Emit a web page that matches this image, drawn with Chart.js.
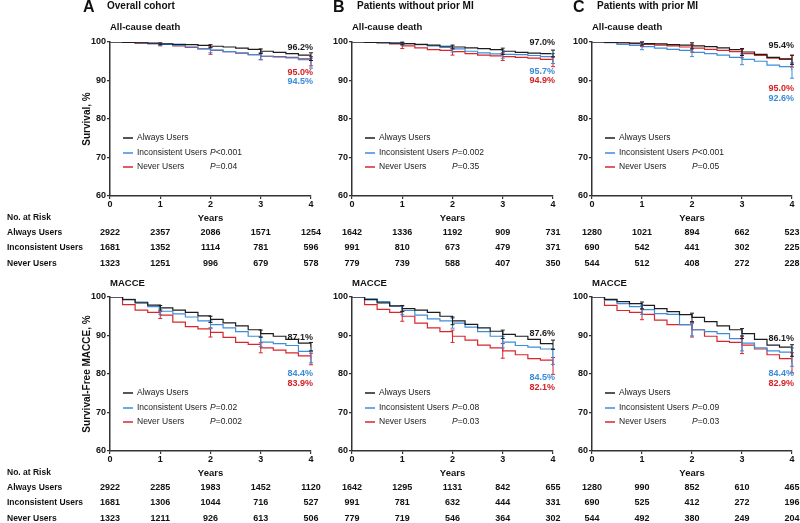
<!DOCTYPE html>
<html>
<head>
<meta charset="utf-8">
<title>Kaplan-Meier curves</title>
<script src="https://cdn.jsdelivr.net/npm/chart.js@4.4.1/dist/chart.umd.min.js"></script>
<style>
  html, body { margin: 0; padding: 0; background: #fff; }
  #fig { position: relative; width: 800px; height: 523px; overflow: hidden; }
  #fig canvas { position: absolute; }
</style>
</head>
<body>
<div id="fig">
  <canvas id="deathAll" width="330" height="271" style="left:0;top:0"></canvas>
  <canvas id="deathNoMi" width="240" height="271" style="left:330px;top:0"></canvas>
  <canvas id="deathMi" width="230" height="271" style="left:570px;top:0"></canvas>
  <canvas id="macceAll" width="330" height="252" style="left:0;top:271px"></canvas>
  <canvas id="macceNoMi" width="240" height="252" style="left:330px;top:271px"></canvas>
  <canvas id="macceMi" width="230" height="252" style="left:570px;top:271px"></canvas>
</div>
<script>
// dados
const years = [0, 0.25, 0.5, 0.75, 1, 1.25, 1.5, 1.75, 2, 2.25, 2.5, 2.75, 3, 3.25, 3.5, 3.75, 4];
const tickYears = [0, 1, 2, 3, 4];
const groups = ['Always Users', 'Inconsistent Users', 'Never Users'];

// All-cause death - overall cohort
const deathAllAlways       = [100, 99.9, 99.8, 99.7, 99.5, 99.4, 99.3, 99.1, 98.9, 98.7, 98.4, 98.1, 97.6, 97.3, 97.0, 96.6, 96.2];
const deathAllInconsistent = [100, 99.9, 99.8, 99.6, 99.4, 99.1, 98.7, 98.3, 97.9, 97.5, 97.1, 96.7, 96.3, 96.1, 95.9, 95.4, 94.5];
const deathAllNever        = [100, 99.9, 99.7, 99.6, 99.4, 99.0, 98.6, 98.2, 97.8, 97.5, 97.1, 96.7, 96.3, 96.2, 96.0, 95.6, 95.0];
// All-cause death - without prior MI
const deathNoMiAlways       = [100, 99.9, 99.8, 99.7, 99.6, 99.4, 99.2, 98.9, 98.7, 98.5, 98.3, 98.0, 97.6, 97.3, 97.1, 97.0, 97.0];
const deathNoMiInconsistent = [100, 99.9, 99.8, 99.7, 99.6, 99.3, 99.0, 98.6, 98.2, 97.6, 97.2, 96.9, 96.8, 96.7, 96.5, 96.2, 95.7];
const deathNoMiNever        = [100, 99.9, 99.8, 99.5, 99.0, 98.5, 98.0, 97.8, 97.5, 97.0, 96.6, 96.4, 96.2, 96.0, 95.8, 95.5, 94.9];
// All-cause death - with prior MI
const deathMiAlways       = [100, 99.9, 99.8, 99.7, 99.6, 99.5, 99.3, 99.2, 99.0, 98.8, 98.5, 98.0, 97.4, 96.8, 96.0, 95.6, 95.4];
const deathMiInconsistent = [100, 99.8, 99.4, 99.1, 98.8, 98.4, 98.1, 97.8, 97.3, 97.0, 96.6, 96.0, 95.5, 95.0, 94.0, 93.6, 92.6];
const deathMiNever        = [100, 99.9, 99.8, 99.6, 99.4, 99.2, 99.0, 98.7, 98.4, 98.1, 97.8, 97.5, 97.0, 96.5, 95.8, 95.5, 95.0];

// MACCE - overall cohort
const macceAllAlways       = [100, 99.3, 98.5, 97.9, 97.2, 96.6, 96.0, 95.1, 94.2, 93.3, 92.5, 91.5, 90.5, 89.8, 89.0, 88.0, 87.1];
const macceAllInconsistent = [100, 99.4, 98.7, 97.5, 96.3, 95.6, 94.8, 93.8, 92.8, 92.0, 91.0, 89.8, 88.3, 87.9, 87.4, 85.9, 84.4];
const macceAllNever        = [100, 98.0, 96.6, 96.0, 95.3, 93.5, 92.3, 91.7, 90.8, 89.5, 88.2, 87.7, 86.8, 86.2, 85.5, 84.7, 83.9];
// MACCE - without prior MI
const macceNoMiAlways       = [100, 99.3, 98.5, 97.7, 97.0, 96.6, 96.0, 95.0, 93.8, 92.9, 92.0, 91.1, 90.3, 89.8, 89.0, 87.9, 87.6];
const macceNoMiInconsistent = [100, 99.5, 98.8, 97.6, 96.5, 95.3, 94.3, 93.8, 93.2, 92.2, 91.0, 89.8, 88.3, 87.4, 87.0, 86.5, 84.5];
const macceNoMiNever        = [100, 98.0, 96.8, 96.0, 95.0, 93.2, 92.0, 91.0, 89.8, 88.8, 87.5, 86.8, 86.0, 85.0, 84.0, 83.6, 82.1];
// MACCE - with prior MI
const macceMiAlways       = [100, 99.4, 98.8, 98.3, 97.8, 97.0, 96.2, 95.4, 94.7, 93.6, 92.5, 91.5, 90.5, 89.0, 87.5, 87.0, 86.1];
const macceMiInconsistent = [100, 99.2, 98.3, 97.5, 96.7, 95.7, 95.5, 92.8, 91.5, 91.0, 90.5, 89.2, 88.0, 86.8, 86.0, 85.7, 84.4];
const macceMiNever        = [100, 97.8, 96.5, 96.0, 95.5, 94.0, 92.8, 92.8, 91.5, 89.8, 88.5, 88.2, 87.5, 86.5, 85.0, 84.0, 82.9];

// IC 95% (meia largura) nos anos 1..4 - Always / Inconsistent / Never
const ciDeathAll  = [[0.2, 0.4, 0.6, 1.0], [0.3, 0.7, 0.9, 1.3], [0.4, 1.0, 0.9, 1.2]];
const ciDeathNoMi = [[0.3, 0.5, 0.8, 0.9], [0.4, 0.8, 1.0, 1.3], [0.7, 0.9, 1.0, 1.3]];
const ciDeathMi   = [[0.4, 0.8, 0.9, 1.2], [0.8, 1.1, 1.4, 2.0], [0.6, 1.0, 1.1, 1.5]];
const ciMacceAll  = [[0.6, 0.8, 0.9, 1.1], [0.8, 1.0, 1.2, 1.5], [0.9, 1.2, 1.3, 1.5]];
const ciMacceNoMi = [[0.8, 1.0, 1.1, 1.2], [1.1, 1.3, 1.5, 2.0], [1.3, 1.6, 1.9, 2.2]];
const ciMacceMi   = [[0.9, 1.1, 1.3, 1.5], [1.2, 1.6, 2.0, 2.4], [1.4, 1.9, 2.2, 2.6]];

// No. at risk
const riskDeathAll  = [[2922, 2357, 2086, 1571, 1254], [1681, 1352, 1114, 781, 596], [1323, 1251, 996, 679, 578]];
const riskDeathNoMi = [[1642, 1336, 1192, 909, 731], [991, 810, 673, 479, 371], [779, 739, 588, 407, 350]];
const riskDeathMi   = [[1280, 1021, 894, 662, 523], [690, 542, 441, 302, 225], [544, 512, 408, 272, 228]];
const riskMacceAll  = [[2922, 2285, 1983, 1452, 1120], [1681, 1306, 1044, 716, 527], [1323, 1211, 926, 613, 506]];
const riskMacceNoMi = [[1642, 1295, 1131, 842, 655], [991, 781, 632, 444, 331], [779, 719, 546, 364, 302]];
const riskMacceMi   = [[1280, 990, 852, 610, 465], [690, 525, 412, 272, 196], [544, 492, 380, 249, 204]];

// P values (Inconsistent vs Always, Never vs Always)
const pDeathAll  = ['<0.001', '=0.04'];
const pDeathNoMi = ['=0.002', '=0.35'];
const pDeathMi   = ['<0.001', '=0.05'];
const pMacceAll  = ['=0.02', '=0.002'];
const pMacceNoMi = ['=0.08', '=0.03'];
const pMacceMi   = ['=0.09', '=0.03'];

// estilo
const FONT = '"Liberation Sans", Arial, Helvetica, sans-serif';
const NARROW = '"Liberation Sans Narrow", "Liberation Sans", Arial, sans-serif';
const LINE_COLORS = ['#1c1c1c', '#3c8ddb', '#d9262c'];
const LABEL_COLORS = ['#1c1c1c', '#3a8ad8', '#d42124'];
const AXIS_COLOR = '#333';
const LEGEND_ROWS = [96, 111, 125];
const RISK_ROWS = [37, 52, 68];

const kmExtras = {
    id: 'kmExtras',
    afterDraw(chart, args, o) {
        const ctx = chart.ctx;
        const { left, right, top, bottom } = chart.chartArea;
        const sx = chart.scales.x, sy = chart.scales.y;
        ctx.save();

        // barras de IC
        for (let i = o.series.length - 1; i >= 0; i--) {
            const s = o.series[i];
            ctx.strokeStyle = LINE_COLORS[i];
            ctx.lineWidth = 1;
            tickYears.slice(1).forEach((yr, k) => {
                const v = s[years.indexOf(yr)];
                const h = o.ci[i][k];
                const x = sx.getPixelForValue(yr);
                const y1 = sy.getPixelForValue(v + h);
                const y2 = sy.getPixelForValue(v - h);
                ctx.beginPath();
                ctx.moveTo(x, y1); ctx.lineTo(x, y2);
                ctx.moveTo(x - 2, y1); ctx.lineTo(x + 2, y1);
                ctx.moveTo(x - 2, y2); ctx.lineTo(x + 2, y2);
                ctx.stroke();
            });
        }

        // legenda
        ctx.textBaseline = 'middle';
        groups.forEach((g, i) => {
            const y = top + LEGEND_ROWS[i];
            ctx.strokeStyle = LINE_COLORS[i];
            ctx.lineWidth = 1.5;
            ctx.beginPath();
            ctx.moveTo(left + 13, y); ctx.lineTo(left + 23, y);
            ctx.stroke();
            ctx.fillStyle = '#222';
            ctx.textAlign = 'left';
            ctx.font = '8.5px ' + NARROW;
            ctx.fillText(g, left + 27, y);
            if (i > 0) {
                ctx.font = 'italic 8.5px ' + NARROW;
                ctx.fillText('P', left + 100, y);
                const w = ctx.measureText('P').width;
                ctx.font = '8.5px ' + NARROW;
                ctx.fillText(o.p[i - 1], left + 100 + w, y);
            }
        });

        // valores finais
        ctx.font = 'bold 9px ' + FONT;
        ctx.textAlign = 'right';
        o.endOffsets.forEach((off, i) => {
            const s = o.series[i];
            ctx.fillStyle = LABEL_COLORS[i];
            ctx.fillText(s[s.length - 1].toFixed(1) + '%', right + 2, top + off);
        });

        // titulos
        ctx.fillStyle = '#111';
        ctx.textAlign = 'left';
        if (o.letter) {
            ctx.font = 'bold 16px ' + FONT;
            ctx.fillText(o.letter, o.letterX, 8);
            ctx.font = 'bold 10px ' + FONT;
            ctx.fillText(o.heading, o.letterX + 24, 6);
        }
        ctx.font = 'bold 9.5px ' + FONT;
        ctx.fillText(o.subtitle, left, o.subtitleY);

        // numero em risco
        ctx.font = 'bold 9px ' + NARROW;
        ctx.fillStyle = '#111';
        ctx.textAlign = 'center';
        o.risk.forEach((row, i) => {
            row.forEach((n, k) => {
                ctx.fillText(String(n), sx.getPixelForValue(tickYears[k]), bottom + RISK_ROWS[i]);
            });
        });
        if (o.rowLabels) {
            ctx.textAlign = 'left';
            ctx.font = 'bold 8.5px ' + FONT;
            ctx.fillText('No. at Risk', 7, bottom + 22);
            groups.forEach((g, i) => ctx.fillText(g, 7, bottom + RISK_ROWS[i]));
        }
        ctx.restore();
    }
};

function criarPainel(id, cfg) {
    const axisGrid = { display: true, drawOnChartArea: false, drawTicks: true, tickLength: 3, color: AXIS_COLOR, lineWidth: 1.2 };
    const tickFont = { family: NARROW, size: 9, weight: 'bold' };
    new Chart(document.getElementById(id), {
        type: 'line',
        data: {
            datasets: cfg.series.map((s, i) => ({
                label: groups[i],
                data: years.map((x, j) => ({ x: x, y: s[j] })),
                borderColor: LINE_COLORS[i],
                borderWidth: 1.2,
                stepped: true,
                pointRadius: 0,
                fill: false
            }))
        },
        options: {
            responsive: false,
            animation: false,
            layout: { padding: cfg.padding },
            plugins: { legend: { display: false }, tooltip: { enabled: false }, kmExtras: cfg },
            scales: {
                x: {
                    type: 'linear', min: 0, max: 4,
                    ticks: { stepSize: 1, color: '#111', font: tickFont, padding: 0, maxRotation: 0 },
                    grid: axisGrid,
                    border: { display: true, color: AXIS_COLOR, width: 1.5 },
                    title: { display: true, text: 'Years', color: '#111', font: { family: FONT, size: 9.5, weight: 'bold' }, padding: 0 },
                    afterFit: s => { s.height = 28; }
                },
                y: {
                    min: 60, max: 100,
                    ticks: { stepSize: 10, color: '#111', font: tickFont, padding: 1 },
                    grid: axisGrid,
                    border: { display: true, color: AXIS_COLOR, width: 1.5 },
                    title: { display: !!cfg.yTitle, text: cfg.yTitle || '', color: '#111', font: { family: FONT, size: 10, weight: 'bold' }, padding: { top: 3, bottom: 0 } },
                    afterFit: s => { s.width = cfg.yWidth; }
                }
            }
        },
        plugins: [kmExtras]
    });
}

criarPainel('deathAll', {
    series: [deathAllAlways, deathAllInconsistent, deathAllNever], ci: ciDeathAll, risk: riskDeathAll, p: pDeathAll,
    letter: 'A', heading: 'Overall cohort', letterX: 83, subtitle: 'All-cause death', subtitleY: 27,
    yTitle: 'Survival, %', yWidth: 32, rowLabels: true, endOffsets: [6, 40, 31],
    padding: { left: 78, right: 19, top: 42, bottom: 47 }
});
criarPainel('deathNoMi', {
    series: [deathNoMiAlways, deathNoMiInconsistent, deathNoMiNever], ci: ciDeathNoMi, risk: riskDeathNoMi, p: pDeathNoMi,
    letter: 'B', heading: 'Patients without prior MI', letterX: 3, subtitle: 'All-cause death', subtitleY: 27,
    yWidth: 20, endOffsets: [1, 30, 39],
    padding: { left: 2, right: 17, top: 42, bottom: 47 }
});
criarPainel('deathMi', {
    series: [deathMiAlways, deathMiInconsistent, deathMiNever], ci: ciDeathMi, risk: riskDeathMi, p: pDeathMi,
    letter: 'C', heading: 'Patients with prior MI', letterX: 3, subtitle: 'All-cause death', subtitleY: 27,
    yWidth: 20, endOffsets: [4, 57, 47],
    padding: { left: 2, right: 8, top: 42, bottom: 47 }
});
criarPainel('macceAll', {
    series: [macceAllAlways, macceAllInconsistent, macceAllNever], ci: ciMacceAll, risk: riskMacceAll, p: pMacceAll,
    subtitle: 'MACCE', subtitleY: 12,
    yTitle: 'Survival-Free MACCE, %', yWidth: 32, rowLabels: true, endOffsets: [41, 77, 87],
    padding: { left: 78, right: 19, top: 26, bottom: 44 }
});
criarPainel('macceNoMi', {
    series: [macceNoMiAlways, macceNoMiInconsistent, macceNoMiNever], ci: ciMacceNoMi, risk: riskMacceNoMi, p: pMacceNoMi,
    subtitle: 'MACCE', subtitleY: 12,
    yWidth: 20, endOffsets: [37, 81, 91],
    padding: { left: 2, right: 17, top: 26, bottom: 44 }
});
criarPainel('macceMi', {
    series: [macceMiAlways, macceMiInconsistent, macceMiNever], ci: ciMacceMi, risk: riskMacceMi, p: pMacceMi,
    subtitle: 'MACCE', subtitleY: 12,
    yWidth: 20, endOffsets: [42, 77, 87],
    padding: { left: 2, right: 8, top: 26, bottom: 44 }
});
</script>
</body>
</html>
